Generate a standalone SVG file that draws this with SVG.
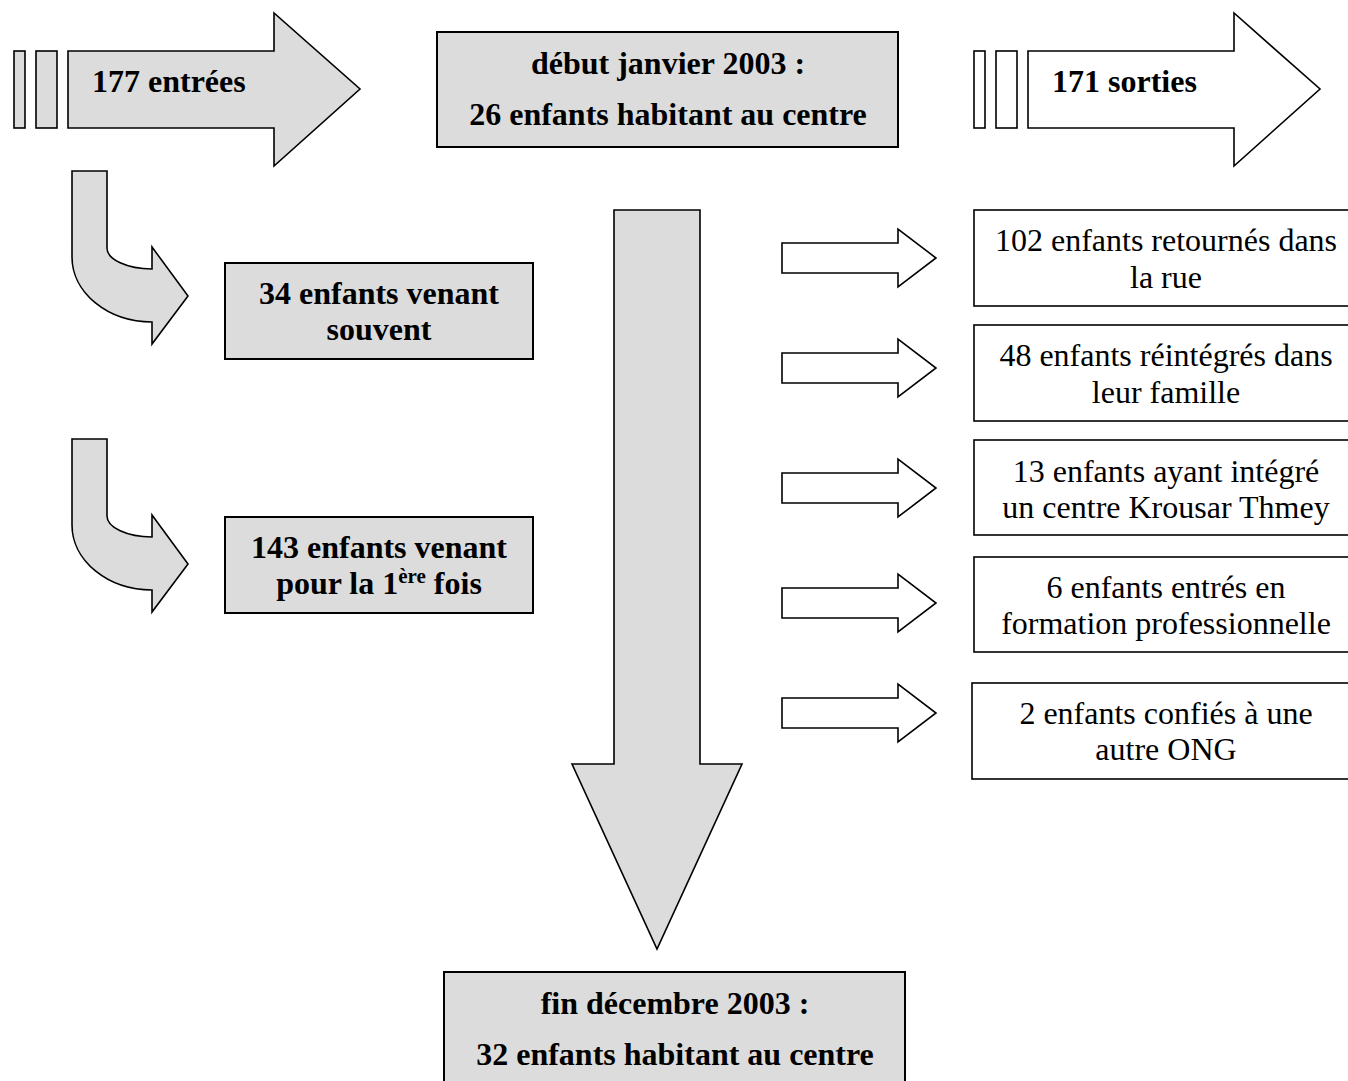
<svg xmlns="http://www.w3.org/2000/svg" width="1348" height="1081" viewBox="0 0 1348 1081">
<style>
.g{fill:#dcdcdc;stroke:#000;stroke-width:1.6;stroke-linejoin:miter}
.w{fill:#fff;stroke:#000;stroke-width:1.6}
.box{fill:#dcdcdc;stroke:#000;stroke-width:2}
.wbox{fill:#fff;stroke:#000;stroke-width:1.6}
.b{font-family:"Liberation Serif","Times New Roman",serif;font-weight:bold;font-size:32px;fill:#000}
.r{font-family:"Liberation Serif","Times New Roman",serif;font-size:32px;fill:#000}
.m{text-anchor:middle}
</style>
<defs>
<path id="sa" d="M782,-15 L898,-15 L898,-29 L936,0 L898,29 L898,15 L782,15 Z"/>
<path id="ca" d="M72,0 L107,0 L107,77 A45,21 0 0 0 152,98 L152,76 L188,125 L152,173 L152,151 A80,65 0 0 1 72,86 Z"/>
</defs>
<rect width="1348" height="1081" fill="#fff"/>
<g id="connectors">
<use href="#ca" class="g" transform="translate(0,171)"/>
<use href="#ca" class="g" transform="translate(0,439)"/>
<path class="g" d="M614,210 L700,210 L700,764 L742,764 L657,949 L572,764 L614,764 Z"/>
<use href="#sa" class="w" transform="translate(0,258)"/>
<use href="#sa" class="w" transform="translate(0,368)"/>
<use href="#sa" class="w" transform="translate(0,488)"/>
<use href="#sa" class="w" transform="translate(0,603)"/>
<use href="#sa" class="w" transform="translate(0,713)"/>
</g>
<g id="entrees">
<rect class="g" x="14" y="51" width="11" height="77"/>
<rect class="g" x="36" y="51" width="21" height="77"/>
<path class="g" d="M68,51 L274,51 L274,13 L360,89 L274,166 L274,128 L68,128 Z"/>
<text class="b" x="92" y="92">177 entrées</text>
</g>
<g id="sorties">
<rect class="w" x="974" y="51" width="11" height="77"/>
<rect class="w" x="996" y="51" width="21" height="77"/>
<path class="w" d="M1028,51 L1234,51 L1234,13 L1320,89 L1234,166 L1234,128 L1028,128 Z"/>
<text class="b" x="1052" y="92">171 sorties</text>
</g>
<g id="debut">
<rect class="box" x="437" y="32" width="461" height="115"/>
<text class="b m" x="668" y="74">début janvier 2003 :</text>
<text class="b m" x="668" y="125">26 enfants habitant au centre</text>
</g>
<g id="souvent">
<rect class="box" x="225" y="263" width="308" height="96"/>
<text class="b m" x="379" y="304">34 enfants venant</text>
<text class="b m" x="379" y="340">souvent</text>
</g>
<g id="premiere">
<rect class="box" x="225" y="517" width="308" height="96"/>
<text class="b m" x="379" y="558">143 enfants venant</text>
<text class="b m" x="379" y="594">pour la 1<tspan font-size="21" dy="-11">ère</tspan><tspan dy="11"> fois</tspan></text>
</g>
<g id="rue">
<rect class="wbox" x="974" y="210" width="390" height="96"/>
<text class="r m" x="1166" y="251">102 enfants retournés dans</text>
<text class="r m" x="1166" y="288">la rue</text>
</g>
<g id="famille">
<rect class="wbox" x="974" y="325" width="390" height="96"/>
<text class="r m" x="1166" y="366">48 enfants réintégrés dans</text>
<text class="r m" x="1166" y="403">leur famille</text>
</g>
<g id="krousar">
<rect class="wbox" x="974" y="440" width="390" height="95"/>
<text class="r m" x="1166" y="482">13 enfants ayant intégré</text>
<text class="r m" x="1166" y="518">un centre Krousar Thmey</text>
</g>
<g id="formation">
<rect class="wbox" x="974" y="557" width="390" height="95"/>
<text class="r m" x="1166" y="598">6 enfants entrés en</text>
<text class="r m" x="1166" y="634">formation professionnelle</text>
</g>
<g id="ong">
<rect class="wbox" x="972" y="683" width="392" height="96"/>
<text class="r m" x="1166" y="724">2 enfants confiés à une</text>
<text class="r m" x="1166" y="760">autre ONG</text>
</g>
<g id="fin">
<rect class="box" x="444" y="972" width="461" height="130"/>
<text class="b m" x="675" y="1014">fin décembre 2003 :</text>
<text class="b m" x="675" y="1065">32 enfants habitant au centre</text>
</g>
</svg>
